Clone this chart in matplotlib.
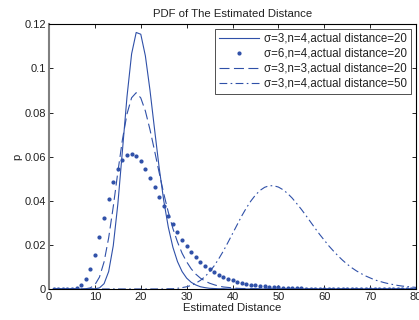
import numpy as np
import matplotlib
matplotlib.use('Agg')
import matplotlib.pyplot as plt

plt.rcParams['font.family'] = ['Liberation Sans', 'DejaVu Sans']

# estimated distance grid (1 .. 80)
x = np.arange(1, 81)

# sigma=3, n=4, actual distance=20
p_s3_n4_d20 = [0, 0, 0, 0, 0, 0, 0, 0, 0, 0.0001,
               0.0005, 0.0024, 0.0079, 0.0196, 0.0385, 0.0627, 0.0873, 0.1066, 0.1163, 0.1155,
               0.1057, 0.0902, 0.0724, 0.0551, 0.0401, 0.0280, 0.0189, 0.0124, 0.0079, 0.0049,
               0.0030, 0.0018, 0.0010, 0.0006, 0.0003, 0.0002, 0.0001, 0.0001, 0, 0] + [0] * 40

# sigma=6, n=4, actual distance=20
p_s6_n4_d20 = [0, 0, 0, 0, 0.0001, 0.0004, 0.0016, 0.0043, 0.0089, 0.0154,
               0.0235, 0.0323, 0.0408, 0.0484, 0.0544, 0.0586, 0.0608, 0.0613, 0.0601, 0.0578,
               0.0545, 0.0505, 0.0463, 0.0419, 0.0375, 0.0333, 0.0293, 0.0257, 0.0223, 0.0193,
               0.0167, 0.0143, 0.0122, 0.0104, 0.0089, 0.0075, 0.0064, 0.0054, 0.0046, 0.0039,
               0.0033, 0.0027, 0.0023, 0.0019, 0.0016, 0.0014, 0.0012, 0.0010, 0.0008, 0.0007,
               0.0006, 0.0005, 0.0004, 0.0003, 0.0003, 0.0002, 0.0002, 0.0002, 0.0001, 0.0001,
               0.0001, 0.0001, 0.0001, 0.0001, 0.0001, 0, 0, 0, 0, 0,
               0, 0, 0, 0, 0, 0, 0, 0, 0, 0]

# sigma=3, n=3, actual distance=20
p_s3_n3_d20 = [0, 0, 0, 0, 0, 0, 0, 0.0001, 0.0005, 0.0019,
               0.0054, 0.0123, 0.0232, 0.0373, 0.0530, 0.0677, 0.0794, 0.0867, 0.0890, 0.0866,
               0.0807, 0.0723, 0.0627, 0.0528, 0.0433, 0.0348, 0.0274, 0.0213, 0.0162, 0.0123,
               0.0091, 0.0067, 0.0049, 0.0036, 0.0026, 0.0019, 0.0013, 0.0009, 0.0007, 0.0005,
               0.0003, 0.0002, 0.0002, 0.0001, 0.0001, 0, 0, 0, 0, 0] + [0] * 30

# sigma=3, n=4, actual distance=50
p_s3_n4_d50 = [0] * 25 + [
               0.0001, 0.0001, 0.0003, 0.0006, 0.0010,
               0.0016, 0.0026, 0.0039, 0.0056, 0.0078, 0.0105, 0.0137, 0.0172, 0.0211, 0.0251,
               0.0291, 0.0331, 0.0367, 0.0399, 0.0426, 0.0447, 0.0461, 0.0468, 0.0468, 0.0462,
               0.0450, 0.0433, 0.0412, 0.0387, 0.0361, 0.0333, 0.0304, 0.0275, 0.0247, 0.0221,
               0.0195, 0.0172, 0.0150, 0.0130, 0.0112, 0.0096, 0.0082, 0.0070, 0.0059, 0.0050,
               0.0041, 0.0035, 0.0029, 0.0024, 0.0020, 0.0016, 0.0013, 0.0011, 0.0009, 0.0007]

labels = [u'\u03c3=3,n=4,actual distance=20',
          u'\u03c3=6,n=4,actual distance=20',
          u'\u03c3=3,n=3,actual distance=20',
          u'\u03c3=3,n=4,actual distance=50']

blue = '#2f50a8'
txt = '#222222'

fig = plt.figure(figsize=(4.19, 3.20), dpi=100)
ax = fig.add_axes([0.117, 0.097, 0.876, 0.827])

ax.plot(x, p_s3_n4_d20, '-', color=blue, lw=0.8, label=labels[0])
ax.plot(x, p_s6_n4_d20, '.', color=blue, ms=4, label=labels[1])
ax.plot(x, p_s3_n3_d20, '--', color=blue, lw=0.8, dashes=(9, 4), label=labels[2])
ax.plot(x, p_s3_n4_d50, '-.', color=blue, lw=0.8, dashes=(7, 3, 1.5, 3), label=labels[3])

ax.set_xlim(0, 80)
ax.set_ylim(0, 0.12)
ax.set_xticks(np.arange(0, 81, 10))
ax.set_yticks([0, 0.02, 0.04, 0.06, 0.08, 0.1, 0.12])
ax.set_yticklabels(['0', '0.02', '0.04', '0.06', '0.08', '0.1', '0.12'])
ax.tick_params(direction='in', top=True, right=True, labelsize=8, length=3, width=0.6,
               pad=2, labelcolor=txt)
for s in ax.spines.values():
    s.set_linewidth(0.8)
ax.spines['left'].set_linewidth(1.5)
ax.spines['left'].set_color('#808080')

ax.set_title('PDF of The Estimated Distance', fontsize=8.2, pad=5, color=txt)
ax.set_xlabel('Estimated Distance', fontsize=8.2, labelpad=1, color=txt)
ax.set_ylabel('p', fontsize=8.2, labelpad=2, color=txt)

leg = ax.legend(loc='upper right', fontsize=8.3, frameon=True, fancybox=False,
                edgecolor='black', handlelength=3.4, borderpad=0.35, labelspacing=0.25,
                handletextpad=0.5, borderaxespad=0.4)
leg.get_frame().set_linewidth(0.6)
for t in leg.get_texts():
    t.set_color(txt)

fig.savefig('out.png', dpi=100)
